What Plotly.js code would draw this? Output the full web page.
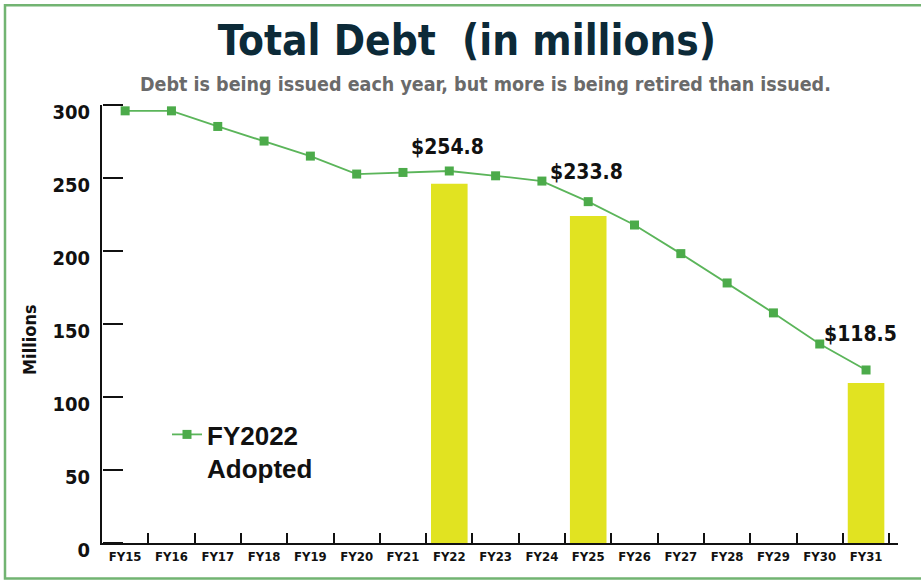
<!DOCTYPE html>
<html>
<head>
<meta charset="utf-8">
<script src="https://cdn.plot.ly/plotly-3.0.1.min.js"></script>
<style>
  html, body { margin: 0; padding: 0; background: #fff; }
  #chart { width: 921px; height: 580px; }
</style>
</head>
<body>
<div id="chart"></div>
<script>
// ---- data ----
const categories = ['FY15','FY16','FY17','FY18','FY19','FY20','FY21','FY22','FY23','FY24','FY25','FY26','FY27','FY28','FY29','FY30','FY31'];
const debtAdopted = [296.0, 296.0, 285.3, 275.3, 265.0, 252.7, 253.8, 254.8, 251.5, 247.9, 233.8, 217.8, 198.2, 178.1, 157.6, 136.3, 118.5];
const barCategories = ['FY22','FY25','FY31'];
const barValues = [246.1, 224.0, 109.6];
const labelledCategories = ['FY22','FY25','FY31'];
const seriesName = 'FY2022<br>Adopted';
const titleText = 'Total Debt \u00a0(in millions)';
const subtitleText = 'Debt is being issued each year, but more is being retired than issued.';
const yAxisTitle = 'Millions';

// ---- layout helpers (pixel -> paper) ----
const W = 921, H = 580;
const mL = 102, mR = 23, mT = 105, mB = 37;
const pw = W - mL - mR, ph = H - mT - mB;
const xp = px => (px - mL) / pw;
const yp = py => (H - mB - py) / ph;

const narrow = 'DejaVu Sans Condensed, Liberation Sans Narrow, Arial Narrow, sans-serif';

const lineTrace = {
  type: 'scatter',
  mode: 'lines+markers',
  x: categories,
  y: debtAdopted,
  name: seriesName,
  line: { color: '#5BB55A', width: 1.8 },
  marker: { symbol: 'square', size: 9, color: '#4CAB4A' },
  showlegend: true,
  hoverinfo: 'x+y'
};

const barTrace = {
  type: 'bar',
  x: barCategories,
  y: barValues,
  width: 0.79,
  marker: { color: '#E1E321', line: { width: 0 } },
  showlegend: false,
  hoverinfo: 'x+y'
};

// empty helper trace so the tick-only overlay axis is drawn
const tickAxisTrace = { type: 'scatter', x: [], y: [], yaxis: 'y2', showlegend: false, hoverinfo: 'skip' };

const labelShiftY = [24, 30, 36];
const labelShiftX = [-2, -2, -6];
const valueAnnotations = labelledCategories.map((c, i) => {
  const v = debtAdopted[categories.indexOf(c)];
  return {
    x: c, y: v, xref: 'x', yref: 'y',
    text: '$' + v.toFixed(1),
    showarrow: false,
    yshift: labelShiftY[i], xshift: labelShiftX[i],
    font: { family: narrow, size: 21, color: '#111', weight: 'bold' }
  };
});

const layout = {
  width: W, height: H,
  margin: { l: mL, r: mR, t: mT, b: mB, pad: 0 },
  paper_bgcolor: '#ffffff',
  plot_bgcolor: '#ffffff',
  barmode: 'overlay',
  title: {
    text: titleText,
    xref: 'container', yref: 'container',
    x: 467 / W, xanchor: 'center',
    y: 1 - 40 / H, yanchor: 'middle',
    font: { family: narrow, size: 42, color: '#0C2A38', weight: 'bold' }
  },
  xaxis: {
    type: 'category',
    categoryorder: 'array',
    categoryarray: categories,
    range: [-0.5, 16.69],
    tickson: 'boundaries',
    ticks: 'inside', ticklen: 10, tickwidth: 1.5, tickcolor: '#111',
    tickangle: 0,
    showline: true, linecolor: '#111', linewidth: 2,
    showgrid: false, zeroline: false,
    tickfont: { family: narrow, size: 13, color: '#111', weight: 'bold' }
  },
  yaxis: {
    range: [0, 300],
    dtick: 50, tick0: 0,
    ticks: '',
    showline: true, linecolor: '#111', linewidth: 2,
    showgrid: false, zeroline: false,
    ticklabelstandoff: 6,
    ticklabelshift: 7,
    tickfont: { family: narrow, size: 20, color: '#111', weight: 'bold' }
  },
  yaxis2: {
    overlaying: 'y',
    anchor: 'free', position: 0, side: 'right',
    range: [0, 300],
    dtick: 50, tick0: 0,
    ticks: 'outside', ticklen: 20, tickwidth: 1.5, tickcolor: '#111',
    showticklabels: false,
    showline: false, showgrid: false, zeroline: false
  },
  legend: {
    x: xp(167), xanchor: 'left',
    y: yp(411), yanchor: 'top',
    valign: 'top',
    bgcolor: 'rgba(0,0,0,0)',
    font: { family: 'Liberation Sans, Arial, sans-serif', size: 26, color: '#111', weight: 'bold' }
  },
  showlegend: true,
  annotations: [
    {
      xref: 'paper', yref: 'paper',
      x: xp(485.5), y: yp(84), xanchor: 'center', yanchor: 'middle',
      text: subtitleText, showarrow: false,
      font: { family: narrow, size: 19.5, color: '#6A6A6A', weight: 'bold' }
    },
    {
      xref: 'paper', yref: 'paper',
      x: xp(29), y: yp(340), xanchor: 'center', yanchor: 'middle',
      text: yAxisTitle, showarrow: false, textangle: -90,
      font: { family: narrow, size: 18, color: '#111', weight: 'bold' }
    }
  ].concat(valueAnnotations),
  shapes: [
    {
      type: 'rect', xref: 'paper', yref: 'paper', layer: 'above',
      x0: xp(5), x1: xp(940), y0: yp(578.5), y1: yp(5.3),
      line: { color: '#72B472', width: 2.5 }
    }
  ]
};

Plotly.newPlot('chart', [barTrace, lineTrace, tickAxisTrace], layout, { displayModeBar: false });
</script>
</body>
</html>
